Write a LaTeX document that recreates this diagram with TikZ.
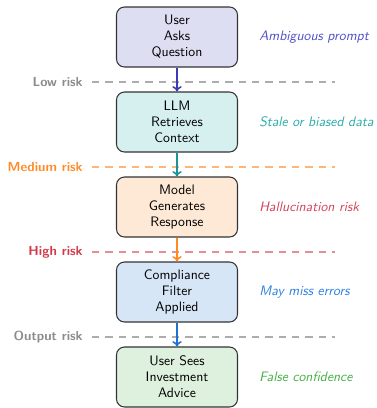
\documentclass[tikz,border=0pt]{standalone}
\usepackage{fontspec}
\usetikzlibrary{arrows.meta}
\renewcommand{\familydefault}{\sfdefault}
\definecolor{aone}{HTML}{3B3BB5}
\definecolor{tone}{HTML}{5050C8}
\definecolor{fone}{HTML}{DEDEF2}
\definecolor{atwo}{HTML}{1A9494}
\definecolor{ttwo}{HTML}{2AABAB}
\definecolor{ftwo}{HTML}{D6EFEF}
\definecolor{athree}{HTML}{FF8A1F}
\definecolor{fthree}{HTML}{FDE9D6}
\definecolor{afour}{HTML}{1F6FD6}
\definecolor{tfour}{HTML}{2A80E0}
\definecolor{ffour}{HTML}{D7E6F6}
\definecolor{ffive}{HTML}{DEF1DE}
\definecolor{tfive}{HTML}{44B044}
\definecolor{thal}{HTML}{D04458}
\definecolor{medl}{HTML}{FF8C2A}
\definecolor{medd}{HTML}{FFB577}
\definecolor{highl}{HTML}{D03A4A}
\definecolor{highd}{HTML}{E38F95}
\definecolor{grayl}{HTML}{8C8C8C}
\definecolor{grayd}{HTML}{ADADAD}
\definecolor{edge}{HTML}{333333}
\newcommand{\myfs}{\fontsize{10.3}{12}\selectfont}
\newcommand{\labfs}{\fontsize{9.9}{12}\selectfont}
\begin{document}
\begin{tikzpicture}[x=0.75pt,y=-0.75pt,
  stepbox/.style={draw=edge,line width=0.8pt,rounded corners=6pt,minimum width=90.75pt,minimum height=45pt,align=center,font=\myfs,inner sep=2pt},
  flow/.style={line width=1.2pt,-{To[length=4pt,width=7pt]}},
  risk/.style={dash pattern=on 5.5pt off 4.5pt,line width=0.9pt},
  risklab/.style={anchor=east,font=\labfs\bfseries,inner sep=0pt},
  note/.style={anchor=west,font=\myfs\itshape,inner sep=0pt}]
\useasboundingbox (0,0) rectangle (376,408);
\node[stepbox,fill=fone] (b1) at (177,37) {User\\Asks\\Question};
\node[stepbox,fill=ftwo] (b2) at (177,122) {LLM\\Retrieves\\Context};
\node[stepbox,fill=fthree] (b3) at (177,207) {Model\\Generates\\Response};
\node[stepbox,fill=ffour] (b4) at (177,292) {Compliance\\Filter\\Applied};
\node[stepbox,fill=ffive] (b5) at (177,377) {User Sees\\Investment\\Advice};
\coordinate (d1a) at (92,82); \coordinate (d1b) at (335,82);
\coordinate (d2a) at (92,167); \coordinate (d2b) at (335,167);
\coordinate (d3a) at (92,252); \coordinate (d3b) at (335,252);
\coordinate (d4a) at (92,337); \coordinate (d4b) at (335,337);
\draw[risk,grayd] (d1a) -- (d1b);
\draw[risk,medd] (d2a) -- (d2b);
\draw[risk,highd] (d3a) -- (d3b);
\draw[risk,grayd] (d4a) -- (d4b);
\draw[flow,aone] (b1) -- (b2);
\draw[flow,atwo] (b2) -- (b3);
\draw[flow,athree] (b3) -- (b4);
\draw[flow,afour] (b4) -- (b5);
\node[risklab,text=grayl] (l1) at (83,82) {Low risk};
\node[risklab,text=medl] (l2) at (83,167) {Medium risk};
\node[risklab,text=highl] (l3) at (83,252) {High risk};
\node[risklab,text=grayl] (l4) at (83,337) {Output risk};
\node[note,text=tone] (n1) at (259,37) {Ambiguous prompt};
\node[note,text=ttwo] (n2) at (259,122) {Stale or biased data};
\node[note,text=thal] (n3) at (259,207) {Hallucination risk};
\node[note,text=tfour] (n4) at (259,292) {May miss errors};
\node[note,text=tfive] (n5) at (259,377) {False confidence};
\end{tikzpicture}
\end{document}
